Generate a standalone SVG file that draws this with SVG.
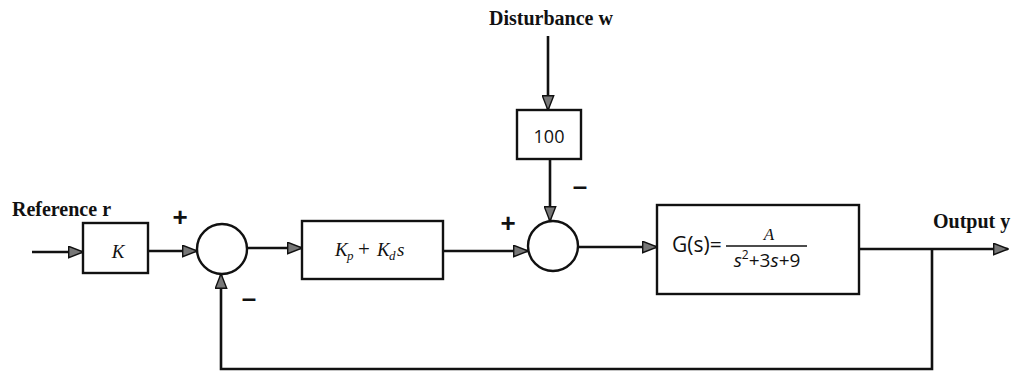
<svg xmlns="http://www.w3.org/2000/svg" width="1018" height="372" viewBox="0 0 1018 372">
<style>
.ln{fill:none;stroke:#111;stroke-width:2.6}
.bx{fill:#fff;stroke:#111;stroke-width:2.4}
.lbl{font-family:"Liberation Serif",serif;font-weight:bold;font-size:20px;fill:#111}
.math{font-family:"Liberation Serif",serif;font-style:italic;fill:#111}
.sans{font-family:"Open Sans","Liberation Sans",sans-serif;fill:#111}
.sign{font-family:"Liberation Sans",sans-serif;font-weight:bold;font-size:26px;fill:#111}
</style>
<defs>
<marker id="ah" viewBox="0 0 16 13" refX="15" refY="6.5" markerWidth="16" markerHeight="13" markerUnits="userSpaceOnUse" orient="auto">
<path d="M0.7,0.8 L15.3,6.5 L0.7,12.2 Z" fill="#777" stroke="#111" stroke-width="1.4"/>
</marker>
</defs>
<rect width="1018" height="372" fill="#fff"/>
<g id="connectors">
<path class="ln" d="M32,252 H83" marker-end="url(#ah)"/>
<path class="ln" d="M148,251 H197" marker-end="url(#ah)"/>
<path class="ln" d="M247,248 H302" marker-end="url(#ah)"/>
<path class="ln" d="M443,251 H528" marker-end="url(#ah)"/>
<path class="ln" d="M578,247 H657" marker-end="url(#ah)"/>
<path class="ln" d="M859,249 H1008" marker-end="url(#ah)"/>
<path class="ln" d="M932,249 V369 H221 V274" marker-end="url(#ah)"/>
<path class="ln" d="M548,36 V110" marker-end="url(#ah)"/>
<path class="ln" d="M550,159 V221" marker-end="url(#ah)"/>
</g>
<g id="label-reference"><text class="lbl" x="12" y="216">Reference r</text></g>
<g id="label-disturbance"><text class="lbl" x="489" y="25">Disturbance w</text></g>
<g id="label-output"><text class="lbl" x="933" y="228">Output y</text></g>
<g id="node-K">
<rect class="bx" x="83" y="223" width="65" height="50"/>
<text class="math" x="118" y="258" font-size="19" text-anchor="middle">K</text>
</g>
<g id="node-sum1">
<circle class="bx" cx="222" cy="249" r="25"/>
<text class="sign" x="180" y="226" text-anchor="middle">+</text>
<text class="sign" x="249" y="307" text-anchor="middle">–</text>
</g>
<g id="node-controller">
<rect class="bx" x="302" y="221" width="141" height="58"/>
<text class="math" y="256" font-size="19"><tspan x="335">K</tspan><tspan x="347" dy="4" font-size="13">p</tspan><tspan x="358" dy="-4" font-style="normal" font-size="21">+</tspan><tspan x="377">K</tspan><tspan x="389" dy="4" font-size="13">d</tspan><tspan x="397" dy="-4">s</tspan></text>
</g>
<g id="node-gain100">
<rect class="bx" x="517" y="110" width="64" height="49"/>
<text class="sans" x="549" y="143" font-size="18" text-anchor="middle">100</text>
</g>
<g id="node-sum2">
<circle class="bx" cx="553" cy="246" r="25"/>
<text class="sign" x="508" y="232" text-anchor="middle">+</text>
<text class="sign" x="580" y="195" text-anchor="middle">–</text>
</g>
<g id="node-plant">
<rect class="bx" x="657" y="205" width="202" height="89"/>
<text class="sans" x="672" y="252" font-size="21">G(s)=</text>
<line x1="726" y1="246" x2="807" y2="246" stroke="#111" stroke-width="1.3"/>
<text class="math" x="769" y="240" font-size="17" text-anchor="middle">A</text>
<text class="sans" x="767" y="267" font-size="19" text-anchor="middle"><tspan font-style="italic">s</tspan><tspan font-size="12" dy="-8">2</tspan><tspan dy="8">+3</tspan><tspan font-style="italic">s</tspan>+9</text>
</g>
</svg>
